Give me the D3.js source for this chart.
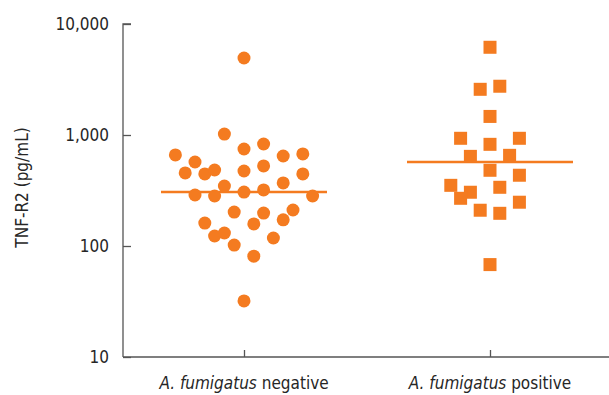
<!DOCTYPE html>
<html>
<head>
<meta charset="utf-8">
<script src="https://cdn.jsdelivr.net/npm/d3@7"></script>
<style>
  body { margin: 0; background: #fff; }
  #chart { width: 609px; height: 395px; }
  text { font-family: "Liberation Sans Narrow", "DejaVu Sans Condensed", sans-serif; fill: #262626; }
</style>
</head>
<body>
<div id="chart"></div>
<script>
const kSvgWidth = 609;
const kSvgHeight = 395;

const groups = ["negative", "positive"];
const yTicks = [10, 100, 1000, 10000];

// A. fumigatus negative: value and column (jitter index)
const negValues = [4940, 1020, 748, 830, 661, 571, 647, 675, 455, 446, 484, 474, 526, 446,
  347, 370, 288, 282, 306, 320, 282, 202, 198, 211, 161, 158, 172, 123, 131, 102, 118, 81, 32];
const negCols = [0, -2, 0, 2, -7, -5, 4, 6, -6, -4, -3, 0, 2, 6,
  -2, 4, -5, -3, 0, 2, 7, -1, 2, 5, -4, 1, 4, -3, -2, -1, 3, 1, 0];
const negMedian = 306;

// A. fumigatus positive
const posValues = [6170, 2580, 2750, 1470, 934, 934, 824, 642, 656, 481, 434, 352, 305, 338,
  269, 248, 210, 197, 68];
const posCols = [0, -1, 1, 0, -3, 3, 0, -2, 2, 0, 3, -4, -2, 1, -3, 3, -1, 1, 0];
const posMedian = 571;

const orange = "#f47b20";
const axisColor = "#555";

const svg = d3.select("#chart")
  .append("svg")
  .attr("width", kSvgWidth)
  .attr("height", kSvgHeight);

const x0 = 123, yBottom = 357, yTop = 24;

const xScale = d3.scalePoint()
  .domain(groups)
  .range([121, 613])
  .padding(0.5);

const jitter = d3.scaleLinear().domain([0, 1]).range([0, 9.8]);

const yScale = d3.scaleLog()
  .domain([10, 10000])
  .range([yBottom, yTop]);

// y axis
const yAxis = d3.axisRight(yScale)
  .tickValues(yTicks)
  .tickSize(8)
  .tickFormat(d3.format(","));

const gy = svg.append("g")
  .attr("transform", `translate(${x0},0)`)
  .call(yAxis);
gy.select(".domain").attr("stroke", axisColor).attr("stroke-width", 1.3)
  .attr("d", `M8,${yTop}H0V${yBottom}`);
gy.selectAll(".tick line").attr("stroke", axisColor).attr("stroke-width", 1.3);
gy.selectAll(".tick text")
  .attr("x", -14)
  .attr("text-anchor", "end")
  .style("font-size", "17px");

// x axis
const xAxis = d3.axisTop(xScale)
  .tickSize(7)
  .tickFormat("");

const gx = svg.append("g")
  .attr("transform", `translate(0,${yBottom})`)
  .call(xAxis);
gx.select(".domain").attr("stroke", axisColor).attr("stroke-width", 1.3)
  .attr("d", `M${x0},0H${kSvgWidth}`);
gx.selectAll(".tick line").attr("stroke", axisColor).attr("stroke-width", 1.3);

groups.forEach(g => {
  const t = svg.append("text")
    .attr("x", xScale(g))
    .attr("y", 389)
    .attr("text-anchor", "middle")
    .style("font-size", "17px");
  t.append("tspan").style("font-style", "italic").text("A. fumigatus");
  t.append("tspan").text(" " + g);
});

svg.append("text")
  .attr("transform", `translate(28,${(yTop + yBottom) / 2 - 3}) rotate(-90)`)
  .attr("text-anchor", "middle")
  .style("font-size", "17px")
  .text("TNF-R2 (pg/mL)");

// median lines
[[negMedian, "negative"], [posMedian, "positive"]].forEach(([m, g]) => {
  svg.append("line")
    .attr("x1", xScale(g) - 83)
    .attr("x2", xScale(g) + 83)
    .attr("y1", yScale(m))
    .attr("y2", yScale(m))
    .attr("stroke", orange)
    .attr("stroke-width", 2.5);
});

// negative: circles
svg.selectAll("circle.neg")
  .data(negValues)
  .enter()
  .append("circle")
  .attr("class", "neg")
  .attr("cx", (d, i) => xScale("negative") + jitter(negCols[i]))
  .attr("cy", d => yScale(d))
  .attr("r", 6.5)
  .attr("fill", orange);

// positive: squares
svg.selectAll("rect.pos")
  .data(posValues)
  .enter()
  .append("rect")
  .attr("class", "pos")
  .attr("x", (d, i) => xScale("positive") + jitter(posCols[i]) - 6.5)
  .attr("y", d => yScale(d) - 6.5)
  .attr("width", 13)
  .attr("height", 13)
  .attr("fill", orange);
</script>
</body>
</html>
